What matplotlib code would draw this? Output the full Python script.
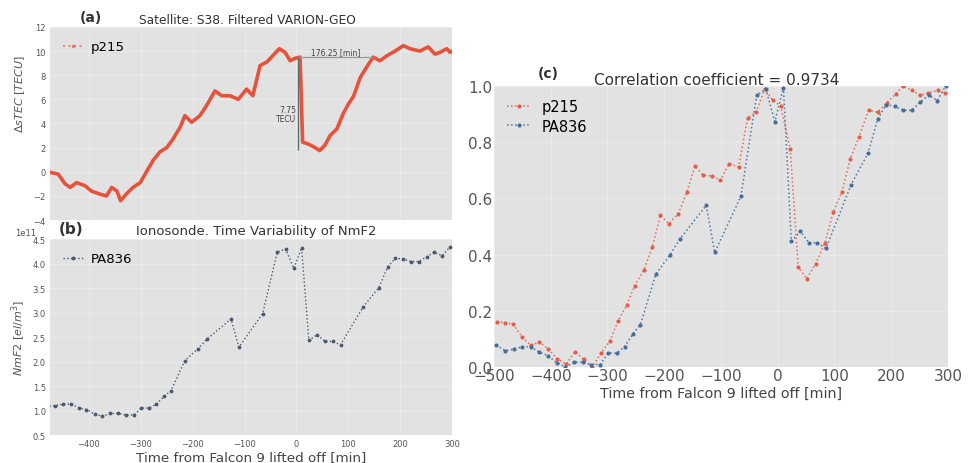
import numpy as np
import matplotlib.pyplot as plt
from matplotlib.lines import Line2D

# p215 filtered VARION-GEO sTEC, satellite S38 (time from lift-off [min], TECU)
p215_t = [-475, -459, -446, -436, -424, -408, -395, -379, -366, -356,
          -346, -339, -328, -315, -301, -289, -276, -263, -250, -238,
          -224, -215, -202, -186, -173, -157, -144, -128, -112, -96,
          -84, -70, -57, -48, -33, -22, -12, -3, 7, 12,
          23, 36, 45, 55, 65, 78, 90, 100, 110, 123,
          135, 148, 161, 174, 190, 206, 219, 238, 254, 267,
          277, 290, 296, 300]
p215_dtec = [-0.05, -0.2, -1.0, -1.3, -0.9, -1.15, -1.6, -1.85, -2.0, -1.3,
             -1.6, -2.4, -1.85, -1.3, -0.9, 0.0, 0.95, 1.65, 2.0, 2.7,
             3.7, 4.65, 4.1, 4.65, 5.5, 6.7, 6.3, 6.3, 6.0, 6.85,
             6.3, 8.8, 9.1, 9.5, 10.2, 9.9, 9.2, 9.4, 9.5, 2.45,
             2.3, 2.0, 1.75, 2.2, 3.0, 3.55, 4.8, 5.6, 6.25, 7.8,
             8.65, 9.5, 9.2, 9.6, 10.0, 10.45, 10.2, 10.0, 10.35, 9.75,
             9.9, 10.2, 9.9, 10.0]

# PA836 ionosonde NmF2 [el/m^3]
pa836_t = [-496, -480, -465, -450, -435, -420, -405, -389, -374, -359,
           -344, -329, -313, -299, -284, -270, -255, -242, -215, -190,
           -172, -126, -111, -65, -37, -21, -5, 10, 24, 40,
           55, 70, 85, 129, 159, 176, 191, 206, 221, 236,
           251, 266, 281, 296]
pa836_nmf2 = np.array([1.15, 1.08, 1.10, 1.13, 1.13, 1.06, 1.02, 0.93, 0.88, 0.94,
                       0.94, 0.91, 0.91, 1.05, 1.05, 1.13, 1.29, 1.40, 2.02, 2.26,
                       2.46, 2.87, 2.29, 2.98, 4.23, 4.30, 3.90, 4.32, 2.43, 2.55,
                       2.41, 2.41, 2.34, 3.12, 3.51, 3.93, 4.11, 4.09, 4.04, 4.04,
                       4.14, 4.23, 4.16, 4.34]) * 1e11

# p215 resampled for the comparison, already min-max normalised
p215_cmp_t = [-495, -481, -466, -450, -435, -420, -404, -389, -373, -357,
              -342, -327, -311, -296, -281, -266, -252, -236, -221, -207,
              -192, -175, -160, -146, -131, -116, -101, -86, -69, -53,
              -38, -23, -9, 5, 22, 36, 51, 67, 83, 98,
              113, 128, 143, 160, 176, 192, 208, 221, 236, 251,
              265, 282, 295]
p215_cmp = [0.160, 0.158, 0.152, 0.105, 0.077, 0.089, 0.063, 0.030, 0.010, 0.055,
            0.027, 0.000, 0.050, 0.092, 0.165, 0.220, 0.290, 0.344, 0.427, 0.540,
            0.510, 0.546, 0.623, 0.715, 0.682, 0.680, 0.664, 0.723, 0.712, 0.886,
            0.907, 0.990, 0.949, 0.930, 0.777, 0.356, 0.314, 0.368, 0.440, 0.552,
            0.623, 0.741, 0.818, 0.913, 0.907, 0.940, 0.972, 1.000, 0.985, 0.967,
            0.974, 0.985, 0.974]

RED = '#e5533d'
BLUE = '#3d6a96'
SLATE = '#4a5a70'
FACE = '#e2e2e2'
TICK = '#555555'


def style_axes(ax, size):
    ax.set_facecolor(FACE)
    for s in ax.spines.values():
        s.set_visible(False)
    ax.grid(True, color='white', lw=0.8, alpha=0.3)
    ax.set_axisbelow(True)
    ax.tick_params(length=0, labelsize=size, labelcolor=TICK, pad=3)


fig = plt.figure(figsize=(9.69, 4.64), dpi=100)

# (a) sTEC
ax_a = fig.add_axes([0.0516, 0.5237, 0.4149, 0.416])
style_axes(ax_a, 6)
ax_a.plot(p215_t, p215_dtec, color=RED, lw=2.6, solid_joinstyle='round')
ax_a.set_xlim(-475, 300)
ax_a.set_ylim(-4, 12)
ax_a.set_yticks(np.arange(-4, 13, 2))
ax_a.set_xticks(np.arange(-400, 301, 100))
ax_a.tick_params(labelbottom=False)
ax_a.set_ylabel(r'$\Delta sTEC\ [TECU]$', fontsize=8, color=TICK)
ax_a.yaxis.set_label_coords(-0.057, 0.66)
ax_a.legend(handles=[Line2D([], [], color=RED, ls=':', marker='.', ms=3, alpha=0.6)],
            labels=['p215'], loc='upper left', frameon=False, fontsize=9.5,
            handlelength=1.5, handletextpad=0.6, borderaxespad=0.6)

# jump annotation
ax_a.hlines(9.55, 3.5, 147, color='#9a9a9a', lw=0.9)
ax_a.vlines(3.5, 1.8, 9.55, color='#557070', lw=1.0)
ax_a.text(75, 9.62, '176.25 [min]', fontsize=5.5, color='#444444', ha='center', va='bottom')
ax_a.text(-1, 4.8, '7.75\nTECU', fontsize=5.5, color='#444444', ha='right', va='center',
          linespacing=1.0)
ax_a.text(0.49, 1.041, 'Satellite: S38. Filtered VARION-GEO', transform=ax_a.transAxes,
          ha='center', va='center', fontsize=8.8, color='#333333')
ax_a.text(0.102, 1.05, '(a)', transform=ax_a.transAxes, ha='center', va='center',
          fontsize=10, fontweight='bold', color='#333333')

# (b) NmF2
ax_b = fig.add_axes([0.0516, 0.0603, 0.4149, 0.4224])
style_axes(ax_b, 6)
ax_b.plot(pa836_t, pa836_nmf2, ls=':', marker='.', ms=3.5, lw=1.0, color=SLATE, label='PA836')
ax_b.set_xlim(-475, 300)
ax_b.set_ylim(0.5e11, 4.5e11)
ax_b.set_yticks(np.arange(0.5e11, 4.51e11, 0.5e11))
ax_b.set_xticks(np.arange(-400, 301, 100))
offset = ax_b.yaxis.get_offset_text()
offset.set_fontsize(6)
offset.set_color(TICK)
offset.set_x(-0.088)
ax_b.set_ylabel(r'$NmF2\ [el/m^3]$', fontsize=8, color=TICK)
ax_b.yaxis.set_label_coords(-0.055, 0.5)
ax_b.set_xlabel('Time from Falcon 9 lifted off [min]', fontsize=9.7, color='#444444',
                labelpad=1)
ax_b.legend(loc='upper left', frameon=False, fontsize=9.5, handlelength=1.5,
            handletextpad=0.6, borderaxespad=0.6)
ax_b.text(0.512, 1.046, 'Ionosonde. Time Variability of NmF2', transform=ax_b.transAxes,
          ha='center', va='center', fontsize=9.5, color='#333333')
ax_b.text(0.052, 1.056, '(b)', transform=ax_b.transAxes, ha='center', va='center',
          fontsize=11, fontweight='bold', color='#333333')

# (c) normalised comparison
pa836_norm = (pa836_nmf2 - pa836_nmf2.min()) / (pa836_nmf2.max() - pa836_nmf2.min())
ax_c = fig.add_axes([0.5098, 0.2069, 0.4685, 0.6056])
style_axes(ax_c, 11)
ax_c.plot(p215_cmp_t, p215_cmp, ls=':', marker='.', ms=4, lw=1.1, color=RED,
          alpha=0.85, label='p215')
ax_c.plot(pa836_t, pa836_norm, ls=':', marker='.', ms=4, lw=1.1, color=BLUE,
          alpha=0.9, label='PA836')
ax_c.set_xlim(-500, 300)
ax_c.set_ylim(0, 1)
ax_c.set_xticks(np.arange(-500, 301, 100))
ax_c.set_yticks(np.arange(0, 1.01, 0.2))
ax_c.tick_params(pad=1)
ax_c.set_xlabel('Time from Falcon 9 lifted off [min]', fontsize=10.3, color='#444444',
                labelpad=2)
ax_c.legend(loc='upper left', frameon=False, fontsize=10.5, handlelength=1.6,
            borderaxespad=0.5, labelspacing=0.3)
ax_c.text(0.491, 1.022, 'Correlation coefficient = 0.9734', transform=ax_c.transAxes,
          ha='center', va='center', fontsize=11, color='#333333')
ax_c.text(0.119, 1.046, '(c)', transform=ax_c.transAxes, ha='center', va='center',
          fontsize=10, fontweight='bold', color='#333333')

fig.savefig('out.png', dpi=100, facecolor='white')
